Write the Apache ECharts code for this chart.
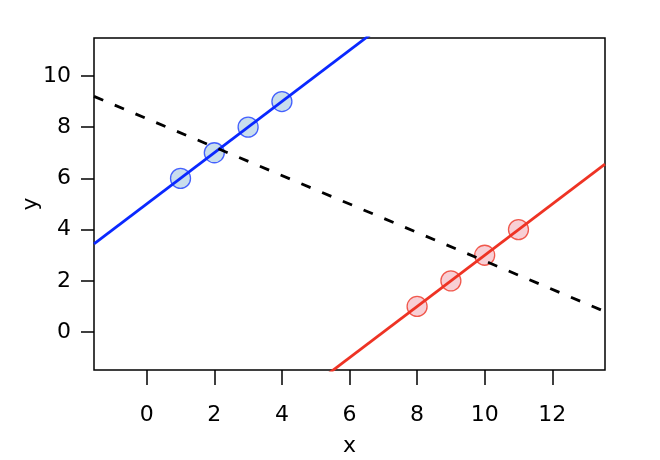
<!DOCTYPE html>
<html>
<head>
<meta charset="utf-8">
<script src="https://cdn.jsdelivr.net/npm/echarts@6/dist/echarts.min.js"></script>
<style>html,body{margin:0;padding:0;background:#fff;}#c{width:660px;height:460px;}</style>
</head>
<body>
<div id="c"></div>
<script>
var groupAx = [1, 2, 3, 4];
var groupAy = [6, 7, 8, 9];
var groupBx = [8, 9, 10, 11];
var groupBy = [1, 2, 3, 4];
var xTicks = [0, 2, 4, 6, 8, 10, 12];
var yTicks = [0, 2, 4, 6, 8, 10];
var xLim = [-1, 13];
var yLim = [-1, 11];

function ext(l){ var d = (l[1]-l[0])*0.04; return [l[0]-d, l[1]+d]; }
var xr = ext(xLim), yr = ext(yLim);

function fit(xs, ys){
  var n = xs.length, mx = 0, my = 0;
  for (var i=0;i<n;i++){ mx += xs[i]; my += ys[i]; }
  mx /= n; my /= n;
  var sxx = 0, sxy = 0;
  for (var i=0;i<n;i++){ sxx += (xs[i]-mx)*(xs[i]-mx); sxy += (xs[i]-mx)*(ys[i]-my); }
  var b = sxy/sxx, a = my - b*mx;
  return [[xr[0], a + b*xr[0]], [xr[1], a + b*xr[1]]];
}
function pairs(xs, ys){ return xs.map(function(v,i){ return [v, ys[i]]; }); }

var fitA = fit(groupAx, groupAy);
var fitB = fit(groupBx, groupBy);
var fitAll = fit(groupAx.concat(groupBx), groupAy.concat(groupBy));

var font = 'DejaVu Sans';
var chart = echarts.init(document.getElementById('c'), null, {renderer:'canvas'});
chart.setOption({
  animation: false,
  backgroundColor: '#fff',
  grid: {left: 94, right: 55, top: 38, bottom: 90, outerBoundsMode: 'none', containLabel: false,
         show: true, borderColor: '#000', borderWidth: 1.5, backgroundColor: 'transparent'},
  xAxis: {
    type: 'value', min: xr[0], max: xr[1],
    name: 'x', nameLocation: 'middle', nameGap: 65, nameMoveOverlap: false,
    nameTextStyle: {fontFamily: font, fontSize: 22, color: '#000'},
    splitLine: {show: false},
    axisLine: {show: false, onZero: false},
    axisTick: {show: true, inside: false, length: 15, customValues: xTicks, lineStyle: {color: '#000', width: 1.5}},
    axisLabel: {customValues: xTicks, margin: 34, fontFamily: font, fontSize: 22, color: '#000'}
  },
  yAxis: {
    type: 'value', min: yr[0], max: yr[1],
    name: 'y', nameLocation: 'middle', nameGap: 52, nameMoveOverlap: false,
    nameTextStyle: {fontFamily: font, fontSize: 22, color: '#000'},
    splitLine: {show: false},
    axisLine: {show: false, onZero: false},
    axisTick: {show: true, inside: false, length: 13, customValues: yTicks, lineStyle: {color: '#000', width: 1.5}},
    axisLabel: {customValues: yTicks, margin: 23, fontFamily: font, fontSize: 22, color: '#000'}
  },
  series: [
    {type: 'scatter', data: pairs(groupAx, groupAy), symbol: 'circle', symbolSize: 20, z: 2,
     itemStyle: {color: '#bcd6e8', borderColor: '#1a3cff', borderWidth: 1.3}},
    {type: 'scatter', data: pairs(groupBx, groupBy), symbol: 'circle', symbolSize: 20, z: 2,
     itemStyle: {color: '#f6c3ca', borderColor: '#ee3324', borderWidth: 1.3}},
    {type: 'line', data: fitA, showSymbol: false, symbol: 'none', clip: true, z: 3,
     lineStyle: {color: '#0a28ff', width: 2.8}},
    {type: 'line', data: fitB, showSymbol: false, symbol: 'none', clip: true, z: 3,
     lineStyle: {color: '#ee3324', width: 2.8}},
    {type: 'line', data: fitAll, showSymbol: false, symbol: 'none', clip: true, z: 3,
     lineStyle: {color: '#000', width: 2.8, type: [10, 12.5]}}
  ]
});
</script>
</body>
</html>
